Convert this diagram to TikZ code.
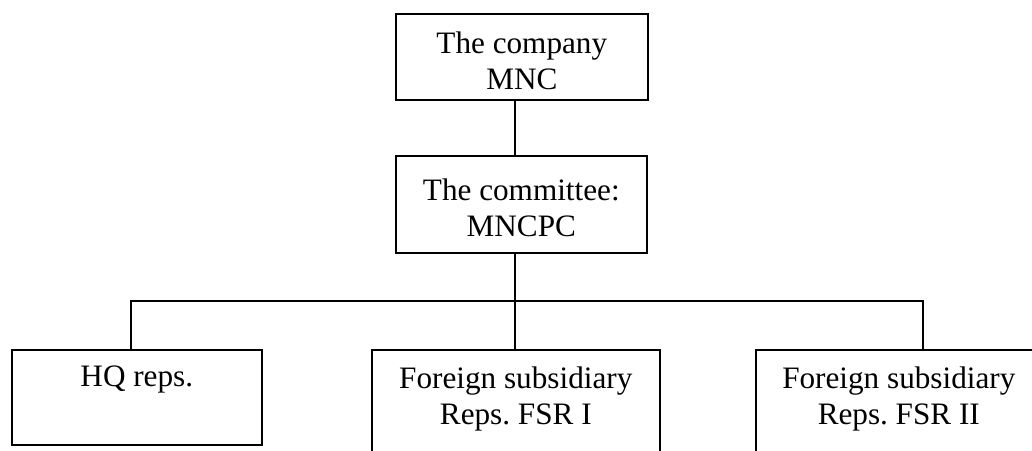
\documentclass[tikz,border=0pt]{standalone}
\usepackage{fontspec}
\setmainfont{Liberation Serif}
\frenchspacing
\begin{document}
\begin{tikzpicture}[x=1pt,y=-1pt,
  box/.style={draw, line width=1.6pt, inner sep=0pt, anchor=north west},
  txt/.style={font=\fontsize{31.2}{35.5}\selectfont, align=center, inner sep=0pt, anchor=north},
  link/.style={line width=1.6pt}]
\useasboundingbox (0,0) rectangle (1032,450);
\clip (0,0) rectangle (1032,450);
% boxes
\node[box, minimum width=252pt, minimum height=86pt] (mnc) at (395,13) {};
\node[box, minimum width=251pt, minimum height=97pt] (mncpc) at (395,155) {};
\node[box, minimum width=250pt, minimum height=95pt] (hq) at (11,349) {};
\node[box, minimum width=288pt, minimum height=105pt] (fsr1) at (371,349) {};
\node[box, minimum width=286pt, minimum height=105pt] (fsr2) at (755,349) {};
% texts
\node[txt] (mnct) at (mnc.north |- 0,32) {The company\\MNC};
\node[txt] (mncpct) at (mncpc.north |- 0,179) {The committee:\\MNCPC};
\node[txt] (hqt) at (hq.north |- 0,366) {HQ reps.};
\node[txt] (fsr1t) at (fsr1.north |- 0,367) {Foreign subsidiary\\Reps. FSR I};
\node[txt] (fsr2t) at (fsr2.north |- 0,367) {Foreign subsidiary\\Reps. FSR II};
% connectors
\coordinate (busL) at (131,301);
\coordinate (busM) at (515,301);
\coordinate (busR) at (923,301);
\draw[link] (mnc.south -| busM) -- (mncpc.north -| busM);
\draw[link] (mncpc.south -| busM) -- (busM);
\draw[link] (hq.north -| busL) -- (busL) -- (busR) -- (fsr2.north -| busR);
\draw[link] (busM) -- (fsr1.north -| busM);
\end{tikzpicture}
\end{document}
